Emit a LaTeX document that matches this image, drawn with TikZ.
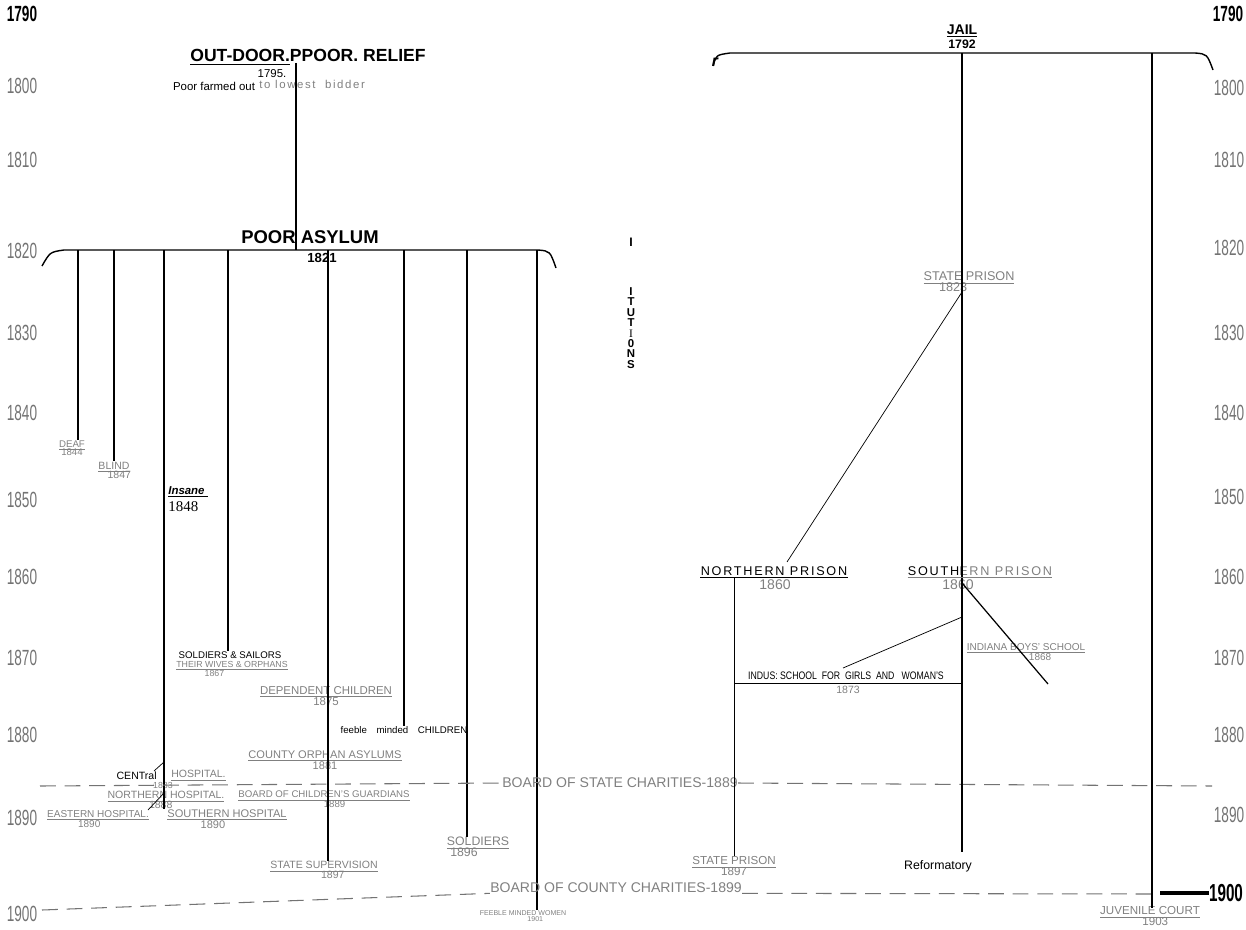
\documentclass[tikz,border=0pt]{standalone}
\usepackage{fontspec}
\setmainfont{Liberation Sans}
\newfontfamily\spacedfont[LetterSpace=14]{Liberation Sans}
\newfontfamily\serifyear{Liberation Serif}
\newcommand\squeeze[1]{\scalebox{0.62}[1]{#1}}
\usetikzlibrary{positioning}

\begin{document}
\begin{tikzpicture}[
    x=0.02cm, y=-0.02cm,
    yr/.style={font=\fontsize{12.5}{12.5}\selectfont, text=black!55, inner sep=0pt},
    byr/.style={font=\bfseries\fontsize{12.5}{12.5}\selectfont, inner sep=0pt},
    head/.style={font=\bfseries\fontsize{#1}{#1}\selectfont, inner sep=0pt},
    head/.default=10,
    note/.style={font=\fontsize{#1}{#1}\selectfont, inner sep=0pt, align=center},
    note/.default=6,
    faint/.style={font=\fontsize{#1}{#1}\selectfont, text=black!50, inner sep=0pt, align=center},
    faint/.default=5.5,
    branch/.style={line width=0.8pt},
    board/.style={black!55, line width=0.6pt, dash pattern=on 9pt off 5pt}
]
    \useasboundingbox (0,0) rectangle (1246,929);

    % years down both sides
    \foreach \y/\py in {1800/86,1810/160,1820/251,1830/333,1840/413,1850/500,1860/577,1870/658,1880/735,1890/818,1900/914}
        \node[yr] (left\y) at (22,\py) {\squeeze{\y}};
    \foreach \y/\py in {1800/88,1810/160,1820/248,1830/333,1840/413,1850/497,1860/577,1870/658,1880/735,1890/815}
        \node[yr] (right\y) at (1229,\py) {\squeeze{\y}};
    \node[byr] (left1790) at (22,14) {\squeeze{1790}};
    \node[byr] (right1790) at (1228,14) {\squeeze{1790}};
    \node[byr, font=\bfseries\fontsize{14}{14}\selectfont] (right1900) at (1226,893) {\squeeze{1900}};
    \coordinate (endmark) at (1160,893);
    \draw[line width=1.8pt] (endmark) -- (right1900.west);

    % poor relief and asylum
    \node[head] (outdoor) at (308,57) {\underline{OUT-DOOR.}PPOOR. RELIEF};
    \node[note=6.5] (y1795) at (272,74) {1795.};
    \node[note=6.5] (farmed) at (214,86) {Poor farmed out};
    \node[faint=6.5, anchor=west] (bidder) at (259,84) {\spacedfont to lowest\ \ bidder};
    \node[head=10.5] (asylum) at (310,237) {POOR ASYLUM};
    \node[head=7.5] (y1821) at (322,258) {1821};
    \coordinate (od) at (296,63);
    \coordinate (pa) at (296,250);
    \draw[branch] (od) -- (pa);
    \draw[branch] (42,266) .. controls (50,252) .. (64,250) -- (538,250) .. controls (550,251) .. (556,268);

    \node[faint=5.5] (deaf) at (72,448) {\underline{DEAF}\\[-2pt]1844};
    \node[faint=6] (blind) at (114,470) {\underline{BLIND}\\[-2pt]\hspace*{6pt}1847};
    \node[note=6.5, anchor=west] (insane) at (168,492) {\bfseries\itshape \underline{Insane\ }};
    \node[anchor=west, inner sep=0pt, font=\serifyear\fontsize{8.5}{8.5}\selectfont] (y1848) at (168,507) {1848};
    \node[note=5.5] (sailors) at (230,655) {SOLDIERS \& SAILORS};
    \node[faint=5] (orphans) at (232,669) {\underline{THEIR WIVES \& ORPHANS}\\[-1pt]\hspace*{-20pt}1867};
    \node[faint=6.5] (dependent) at (326,696) {\underline{DEPENDENT CHILDREN}\\[-1pt]1875};
    \node[note=5.5] (feeble) at (404,730) {feeble\quad minded\quad CHILDREN};
    \node[faint=6.3] (county) at (325,760) {\underline{COUNTY ORPHAN ASYLUMS}\\[-1pt]1881};
    \node[note=6, anchor=east] (central) at (157,776) {CENTral};
    \node[faint=6, anchor=west] (centralh) at (171,776) {\underline{HOSPITAL.}};
    \node[faint=5] (y1883) at (163,785) {1883};
    \node[faint=6] (northern) at (166,800) {\underline{NORTHERN HOSPITAL.}\\[-1.5pt]\hspace*{-6pt}1888};
    \node[faint=5.5] (guardians) at (324,799) {\underline{BOARD OF CHILDREN'S GUARDIANS}\\[-1.5pt]\hspace*{12pt}1889};
    \node[faint=5.7] (eastern) at (98,819) {\underline{EASTERN HOSPITAL.}\\[-1pt]\hspace*{-10pt}1890};
    \node[faint=6.3] (southern) at (227,819) {\underline{SOUTHERN HOSPITAL}\\[-1pt]\hspace*{-16pt}1890};
    \node[faint=6] (supervision) at (324,870) {\underline{STATE SUPERVISION}\\[-1.5pt]\hspace*{10pt}1897};
    \node[faint=7] (soldiers) at (478,847) {\underline{SOLDIERS}\\[-1pt]\hspace*{-16pt}1896};
    \node[faint=4] (women) at (523,916) {FEEBLE MINDED WOMEN\\[-0.5pt]\hspace*{14pt}1901};

    % branches off the asylum bar
    \foreach \x/\n in {78/deaf, 114/blind, 164/southern, 228/sailors, 328/supervision, 404/feeble, 467/soldiers, 537/women} {
        \coordinate (top\n) at (\x,250);
        \draw[branch] (top\n) -- (top\n |- \n.north);
    }
    \draw (164,762) -- (154,771);
    \draw (164,793) -- (148,810);

    % boards
    \node[faint=8] (statecb) at (620,783) {BOARD OF STATE CHARITIES-1889};
    \node[faint=8] (countycb) at (616,888) {BOARD OF COUNTY CHARITIES-1899};
    \coordinate (sbl) at (40,786);
    \coordinate (sbr) at (1212,786);
    \coordinate (cbl) at (42,910);
    \coordinate (cbr) at (1153,894);
    \draw[board] (sbl) -- (statecb.west);
    \draw[board] (statecb.east) -- (sbr);
    \draw[board] (cbl) -- (countycb.south west);
    \draw[board] (countycb.south east) -- (cbr);

    % institutions, written downwards
    \node[head=7] (ti) at (631,242) {I};
    \node[head=6, align=center, font=\bfseries\fontsize{6.5}{5.9}\selectfont] (titution) at (631,328)
        {I\\T\\U\\T\\{\mdseries\serifyear I}\\0\\N\\S};

    % jail and prisons
    \node[head=8, font=\bfseries\itshape\fontsize{9}{9}\selectfont] (rmark) at (715,62) {r};
    \node[head=8] (jail) at (962,31) {\underline{JAIL}};
    \node[head=7] (y1792) at (962,44) {1792};
    \draw[branch] (713,66) .. controls (716,55) .. (730,53) -- (1195,53) .. controls (1207,54) .. (1213,70);
    \coordinate (jl) at (962,53);
    \coordinate (jr) at (1152,53);

    \node[faint=7.2] (sp1823) at (969,282) {\underline{STATE PRISON}\\[-1pt]\hspace*{-18pt}1823};
    \node[font=\spacedfont\fontsize{7.2}{7.2}\selectfont, inner sep=0pt] (nprison) at (774,571) {NORTHERN PRISON};
    \node[faint=8] (n1860) at (775,585) {1860};
    \node[font=\spacedfont\fontsize{7.2}{7.2}\selectfont, inner sep=0pt] (sprison) at (980,571) {SOUTH\textcolor{black!50}{ERN PRISON}};
    \node[faint=8] (s1860) at (958,585) {1860};
    \node[faint=5.7] (boys) at (1026,652) {\underline{INDIANA BOYS' SCHOOL}\\[-1pt]\hspace*{16pt}1868};
    \node[font=\fontsize{6.2}{6.2}\selectfont, inner sep=0pt] (girls) at (846,676) {\scalebox{0.8}[1]{INDUS: SCHOOL\ \ FOR\ \ GIRLS\ \ AND\ \ \ WOMAN'S}};
    \node[faint=6] (y1873) at (848,690) {1873};
    \node[faint=6.6] (sp1897) at (734,866) {\underline{STATE PRISON}\\[-1.5pt]1897};
    \node[note=7] (reform) at (938,866) {Reformatory};
    \node[faint=6.6] (juvenile) at (1150,916) {\underline{JUVENILE COURT}\\[-1.5pt]\hspace*{6pt}1903};

    \coordinate (southfoot) at (962,852);
    \coordinate (juvfoot) at (1152,908);
    \draw[branch] (jl) -- (southfoot);
    \draw[branch] (jr) -- (juvfoot);
    \coordinate (sdiag) at (962,292);
    \coordinate (ndiag) at (787,562);
    \draw (sdiag) -- (ndiag);
    \coordinate (nfoot) at (734,578);
    \draw (nfoot) -- (nfoot |- sp1897.north);
    \draw ([yshift=-1pt]nprison.south west) -- ([yshift=-1pt]nprison.south east);
    \draw[black!50] ([yshift=-1pt]sprison.south west) -- ([yshift=-1pt]sprison.south east);
    \coordinate (bdiag) at (962,583);
    \coordinate (bend) at (1048,684);
    \draw[line width=0.7pt] (bdiag) -- (bend);
    \coordinate (gdiag) at (962,617);
    \coordinate (gend) at (843,668);
    \draw (gdiag) -- (gend);
    \coordinate (gl) at (734,683);
    \coordinate (gr) at (962,683);
    \draw (gl) -- (gr);
\end{tikzpicture}
\end{document}
